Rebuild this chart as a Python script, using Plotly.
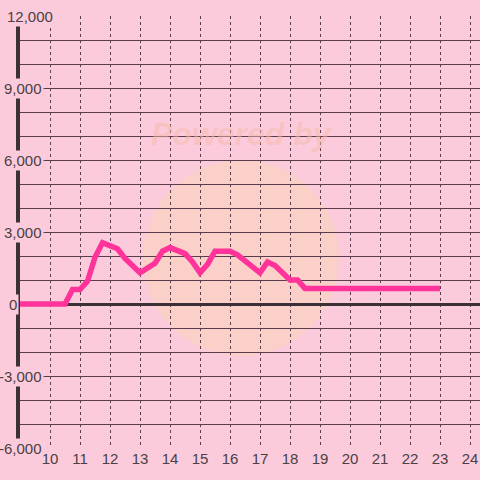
import plotly.graph_objects as go

# ---- data ----
hours = [9.0, 10.5, 10.75, 11.0, 11.25, 11.5, 11.75, 12.25, 12.5, 13.0, 13.5, 13.75, 14.0,
         14.5, 14.75, 15.0, 15.25, 15.5, 16.0, 16.25, 16.5, 17.0, 17.25, 17.5, 18.0,
         18.25, 18.5, 23.0]
values = [0, 0, 600, 600, 950, 1950, 2550, 2300, 1900, 1300, 1700, 2200, 2350,
          2100, 1750, 1300, 1650, 2200, 2200, 2050, 1800, 1300, 1750, 1600, 1000,
          1000, 650, 650]
x_ticks = list(range(10, 25))
y_tick_vals = [12000, 9000, 6000, 3000, 0, -3000, -6000]
y_tick_text = ["12,000", "9,000", "6,000", "3,000", "0", "-3,000", "-6,000"]

BG = "#fccbdb"
GRID = "#5a3d4c"
TXT = "#4a4045"
FONT = "Liberation Sans, Arial, sans-serif"

fig = go.Figure()
fig.add_trace(go.Scatter(
    x=hours, y=values, mode="lines",
    line=dict(color="#ff3399", width=5.5),
    hoverinfo="skip", showlegend=False, cliponaxis=False,
))

W, L = 460, 20
annotations = []
for v, t in zip(y_tick_vals, y_tick_text):
    if t == "12,000":
        ax, anc = (5 - L) / W, "left"
    elif t == "0":
        ax, anc = (7 - L) / W, "left"
    else:
        ax, anc = (44 - L) / W, "right"
    annotations.append(dict(
        x=ax, y=v, xref="paper", yref="y", text=t, showarrow=False,
        xanchor=anc, yanchor="middle", bgcolor=BG, borderpad=1,
        font=dict(family=FONT, size=15, color=TXT),
    ))

# faint watermark
annotations.append(dict(
    x=(242 - L) / W, y=(448 - 134) / 432, xref="paper", yref="paper",
    xanchor="center", yanchor="middle",
    text="<b><i>Powered by</i></b>", showarrow=False,
    font=dict(family=FONT, size=32, color="rgba(246,185,170,0.5)"),
))

shapes = [dict(
    type="circle", xref="paper", yref="paper", layer="below",
    x0=(143 - L) / W, x1=(339 - L) / W,
    y0=(448 - 356) / 432, y1=(448 - 160) / 432,
    fillcolor="rgba(248,212,188,0.6)", line=dict(width=0),
)]

fig.update_layout(
    width=480, height=480,
    margin=dict(l=20, r=0, t=16, b=32),
    paper_bgcolor=BG, plot_bgcolor=BG,
    annotations=annotations, shapes=shapes,
    xaxis=dict(
        range=[9, 24.333], tickvals=x_ticks, ticktext=[str(v) for v in x_ticks],
        showgrid=True, gridcolor=GRID, gridwidth=1, griddash="3px,3px",
        zeroline=False, showline=False, ticks="",
        tickfont=dict(family=FONT, size=15, color=TXT),
    ),
    yaxis=dict(
        range=[-6000, 12000], dtick=1000, showticklabels=False,
        showgrid=True, gridcolor=GRID, gridwidth=1.2,
        zeroline=True, zerolinecolor="#3a3035", zerolinewidth=3,
        showline=True, linecolor="#3a3035", linewidth=4, ticks="",
    ),
)

fig.write_html(
    "out.html",
    config={"displayModeBar": False},
    post_script="document.body.style.margin='0';document.body.style.overflow='hidden';",
)
